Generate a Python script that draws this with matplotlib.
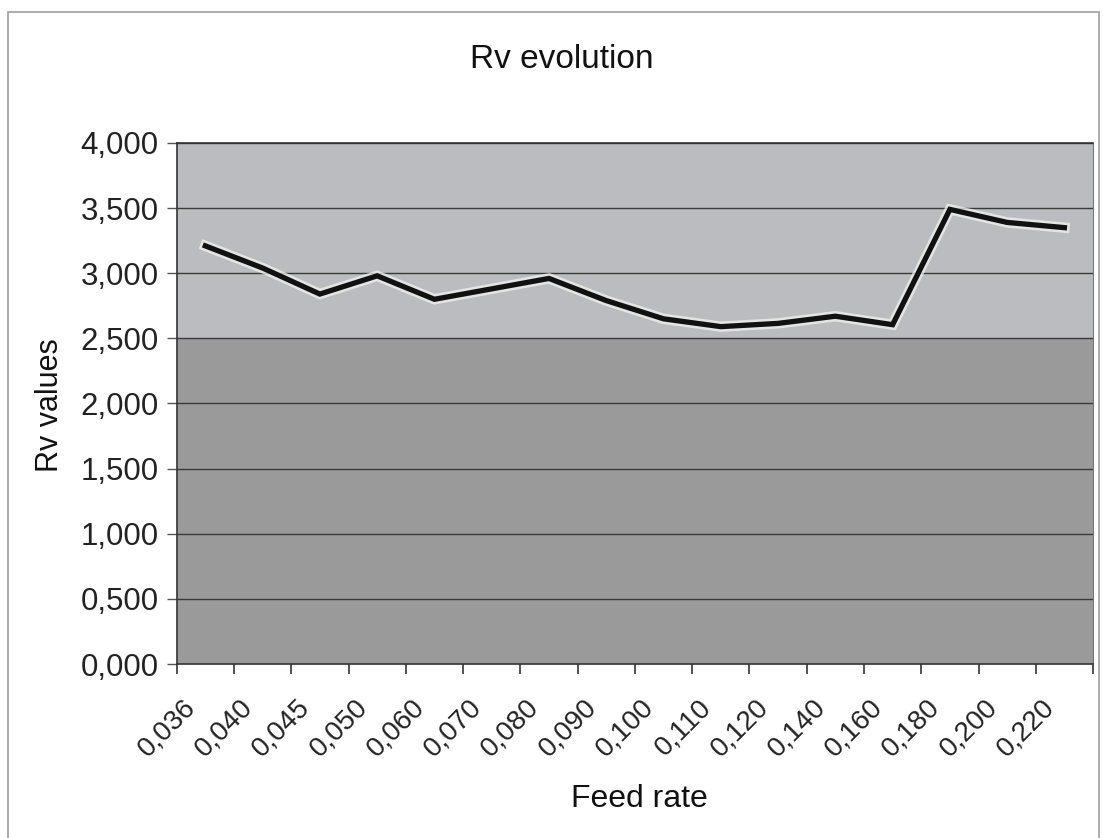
import matplotlib
matplotlib.use("Agg")
import matplotlib.pyplot as plt
import matplotlib.patheffects as pe
import matplotlib.transforms as mtransforms
from matplotlib.patches import Rectangle
import numpy as np

plt.rcParams['font.family'] = ['Liberation Sans', 'DejaVu Sans']

feed_rates = ["0,036", "0,040", "0,045", "0,050", "0,060", "0,070", "0,080", "0,090",
              "0,100", "0,110", "0,120", "0,140", "0,160", "0,180", "0,200", "0,220"]
rv_values = [3.210, 3.040, 2.840, 2.980, 2.800, 2.880, 2.960, 2.790,
             2.650, 2.590, 2.615, 2.670, 2.605, 3.490, 3.390, 3.350]
y_ticks = [0.0, 0.5, 1.0, 1.5, 2.0, 2.5, 3.0, 3.5, 4.0]
y_tick_labels = ["0,000", "0,500", "1,000", "1,500", "2,000", "2,500", "3,000", "3,500", "4,000"]

fig = plt.figure(figsize=(11.03, 8.38), dpi=100)
fig.patch.set_facecolor('white')
fig.patches.append(Rectangle((0.007, -0.02), 0.989, 1.006, transform=fig.transFigure,
                             fill=False, edgecolor='#a0a0a0', linewidth=1.2))

ax = fig.add_axes([0.1602, 0.2076, 0.8308, 0.6218])
n = len(feed_rates)
x = np.arange(n)

ax.set_facecolor('#a6a6a6')
ax.axhspan(2.5, 4.0, color='#bbbcbf', zorder=0, linewidth=0)
ax.axhspan(0.0, 2.5, color='#9a9a9b', zorder=0, linewidth=0)

for yv in y_ticks[1:]:
    ax.axhline(yv, color='#3a3a3a', linewidth=1.0, zorder=1)

ax.plot(x, rv_values, color='#111111', linewidth=3.8, solid_joinstyle='miter', zorder=3,
        path_effects=[pe.Stroke(linewidth=7.5, foreground='#f2f2f2', alpha=0.75), pe.Normal()])

ax.set_xlim(-0.5, n - 0.5)
ax.set_ylim(0, 4.0)

ax.set_xticks(np.arange(-0.5, n, 1.0))
ax.set_xticklabels([])
ax.set_xticks(x, minor=True)
ax.set_xticklabels(feed_rates, minor=True, rotation=45, ha='right', va='top',
                   rotation_mode='anchor', fontsize=20, color='#222222')
ax.tick_params(axis='x', which='major', length=7, width=1.2, color='#333333', direction='out')
ax.tick_params(axis='x', which='minor', length=0, pad=16)
offset = mtransforms.ScaledTranslation(-0.23, -0.08, fig.dpi_scale_trans)
for lbl in ax.get_xticklabels(minor=True):
    lbl.set_transform(lbl.get_transform() + offset)

ax.set_yticks(y_ticks)
ax.set_yticklabels(y_tick_labels, fontsize=22.5, color='#222222')
ax.tick_params(axis='y', length=7, width=1.0, color='#555555', direction='out', pad=6)

for side in ['left', 'bottom', 'top']:
    ax.spines[side].set_color('#333333')
    ax.spines[side].set_linewidth(1.2)
ax.spines['right'].set_color('#777777')

fig.text(0.509, 0.929, "Rv evolution", ha='center', va='center', fontsize=24, color='#111111')
fig.text(0.045, 0.517, "Rv values", ha='center', va='center', rotation=90, fontsize=22, color='#111111')
fig.text(0.58, 0.046, "Feed rate", ha='center', va='center', fontsize=23, color='#111111')

fig.savefig("out.png", dpi=100, facecolor='white')
